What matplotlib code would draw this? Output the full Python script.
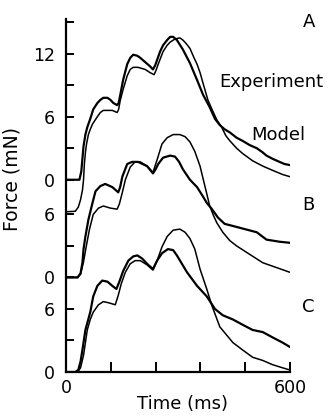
import numpy as np
import matplotlib
matplotlib.use('Agg')
import matplotlib.pyplot as plt

plt.rcParams['font.family'] = 'DejaVu Sans'

# twitch force traces, time in ms, force in mN (each panel relative to its own zero)
tA_exp = [0, 36, 41, 44, 47, 52, 57, 65, 73, 84, 92, 100, 111, 119, 127, 137, 141, 145, 153, 164, 172, 180,
          191, 199, 212, 225, 233, 239, 247, 252, 260, 271, 279, 287, 297, 313, 332, 351, 367, 385, 399, 412,
          425, 439, 457, 473, 492, 511, 527, 537, 553, 572, 585, 599]
fA_exp = [0, 0, 0.8, 2.0, 3.2, 4.3, 5.0, 5.8, 6.7, 7.3, 7.6, 7.8, 7.8, 7.6, 7.3, 7.1, 7.3, 8.0, 9.5, 11.0, 11.6, 11.9,
          11.8, 11.6, 11.2, 10.8, 10.5, 10.9, 11.7, 12.2, 12.8, 13.3, 13.6, 13.6, 13.3, 12.4, 11.1, 9.5, 8.1, 6.9, 5.8, 5.2,
          4.8, 4.5, 4.0, 3.7, 3.3, 3.0, 2.6, 2.3, 2.0, 1.7, 1.5, 1.4]
tA_mod = [0, 25, 33, 39, 44, 47, 49, 52, 55, 60, 65, 71, 84, 92, 100, 111, 124, 137, 141, 145, 153, 164, 172, 180,
          193, 212, 225, 236, 241, 247, 260, 271, 279, 292, 305, 313, 321, 332, 343, 351, 359, 367, 380, 391, 404,
          417, 428, 439, 457, 473, 500, 527, 553, 580, 599]
fA_mod = [-3.05, -3.0, -2.6, -1.9, -1.0, 0, 1.4, 2.6, 3.4, 4.3, 4.8, 5.3, 6.0, 6.4, 6.6, 6.6, 6.6, 6.4, 6.7, 7.5, 8.6, 9.9, 10.5, 10.7,
          10.7, 10.5, 10.2, 10.0, 10.4, 11.0, 12.2, 12.8, 13.1, 13.4, 13.5, 13.3, 13.0, 12.5, 11.6, 11.0, 10.2, 9.2, 7.6, 6.7, 5.7,
          5.0, 4.2, 3.7, 3.0, 2.5, 1.8, 1.3, 0.9, 0.5, 0.3]

tB_exp = [0, 31, 39, 44, 47, 52, 60, 71, 79, 92, 105, 124, 140, 145, 151, 164, 177, 193, 217, 233, 240, 247, 260,
          279, 292, 303, 313, 332, 351, 367, 377, 391, 407, 425, 447, 479, 511, 537, 572, 599]
fB_exp = [0, 0, 0.4, 1.4, 2.7, 3.9, 5.5, 7.1, 8.2, 8.7, 8.9, 8.6, 8.1, 8.6, 9.6, 10.8, 11.0, 11.0, 10.6, 9.9, 10.3, 10.8, 11.4,
          11.6, 11.5, 11.0, 10.3, 9.3, 8.6, 7.7, 7.1, 6.5, 5.7, 5.1, 4.9, 4.6, 4.3, 3.6, 3.4, 3.3]
tB_mod = [0, 31, 39, 47, 55, 63, 73, 87, 100, 119, 137, 143, 151, 159, 172, 185, 199, 217, 233, 244, 257, 271, 287,
          305, 319, 332, 345, 359, 372, 385, 395, 404, 420, 439, 457, 492, 527, 559, 599]
fB_mod = [0, 0, 0.3, 1.5, 3.1, 4.6, 6.0, 6.6, 6.8, 6.6, 6.5, 7.0, 8.1, 9.3, 10.5, 11.0, 11.0, 10.6, 10.0, 11.2, 12.7, 13.3, 13.6,
          13.6, 13.4, 12.9, 12.0, 10.6, 8.7, 6.8, 5.9, 5.2, 4.3, 3.5, 3.0, 2.2, 1.4, 1.0, 0.5]

tC_exp = [0, 25, 33, 39, 44, 52, 65, 73, 84, 97, 111, 124, 135, 143, 153, 167, 180, 191, 204, 220, 233, 244, 257,
          273, 287, 297, 324, 351, 377, 399, 420, 447, 473, 500, 527, 553, 580, 599]
fC_exp = [0, 0, 0.2, 1.0, 2.1, 4.0, 5.7, 7.2, 8.2, 8.7, 8.6, 8.2, 7.9, 8.6, 9.6, 10.6, 11.0, 11.1, 10.8, 10.2, 9.8, 10.6, 11.3,
          11.7, 11.6, 11.1, 9.5, 8.2, 7.2, 6.0, 5.4, 5.0, 4.5, 4.0, 3.8, 3.3, 2.8, 2.4]
tC_mod = [0, 31, 39, 47, 57, 65, 73, 87, 100, 113, 132, 140, 148, 159, 172, 185, 199, 217, 233, 244, 257, 271, 287,
          305, 319, 332, 345, 359, 377, 391, 412, 447, 473, 500, 527, 553, 580, 599]
fC_mod = [0, 0, 0.4, 1.6, 4.0, 5.0, 5.7, 6.4, 6.7, 6.6, 6.4, 7.3, 8.4, 9.5, 10.3, 10.6, 10.6, 10.2, 9.7, 10.6, 11.9, 12.9, 13.5,
          13.6, 13.3, 12.7, 11.7, 9.8, 7.9, 6.3, 4.3, 2.8, 2.1, 1.4, 1.1, 0.7, 0.4, 0.2]

panels = ['A', 'B', 'C']
offsets = {'A': 18.3, 'B': 9.0, 'C': 0.0}
traces = {'A': (tA_exp, fA_exp, tA_mod, fA_mod),
          'B': (tB_exp, fB_exp, tB_mod, fB_mod),
          'C': (tC_exp, fC_exp, tC_mod, fC_mod)}

fig = plt.figure(figsize=(3.33, 4.18), dpi=100)
ax = fig.add_axes([66/333, 1-372/418, (290-66)/333, (372-19)/418])

for p in panels:
    te, fe, tm, fm = traces[p]
    ax.plot(te, np.array(fe)+offsets[p], color='k', lw=1.6, solid_joinstyle='round')
    ax.plot(tm, np.array(fm)+offsets[p], color='k', lw=1.1, solid_joinstyle='round')

ax.set_xlim(0, 600)
ax.set_ylim(0, 33.6)
ax.spines['top'].set_visible(False)
ax.spines['right'].set_visible(False)
for s in ['left', 'bottom']:
    ax.spines[s].set_linewidth(1.6)

ax.set_xticks([0, 120, 240, 360, 480, 600])
ax.set_xticklabels(['0', '', '', '', '', '600'])
yt, yl = [], []
for p, top in zip(panels, [15, 6, 6]):
    for v in range(0, top+1, 3):
        yt.append(offsets[p]+v)
        yl.append(str(v) if v % 6 == 0 else '')
ax.set_yticks(yt)
ax.set_yticklabels(yl)
ax.tick_params(axis='both', direction='in', width=1.4, labelsize=12.5, color='k')
ax.tick_params(axis='y', length=6, pad=8)
ax.tick_params(axis='x', length=7.5, pad=5)

ax.set_xlabel('Time (ms)', fontsize=13, va='center')
ax.xaxis.set_label_coords(0.52, -0.09)
ax.set_ylabel('Force (mN)', fontsize=13.5)
ax.yaxis.set_label_coords(-0.2, 0.547)

fs = 13
fig.text(303/333, 1-22/418, 'A', fontsize=fs, ha='left', va='center')
fig.text(219/333, 1-82/418, 'Experiment', fontsize=fs, ha='left', va='center')
fig.text(251/333, 1-135/418, 'Model', fontsize=fs, ha='left', va='center')
fig.text(302/333, 1-205/418, 'B', fontsize=fs, ha='left', va='center')
fig.text(302/333, 1-307/418, 'C', fontsize=fs, ha='left', va='center')

fig.savefig('out.png', dpi=100)
